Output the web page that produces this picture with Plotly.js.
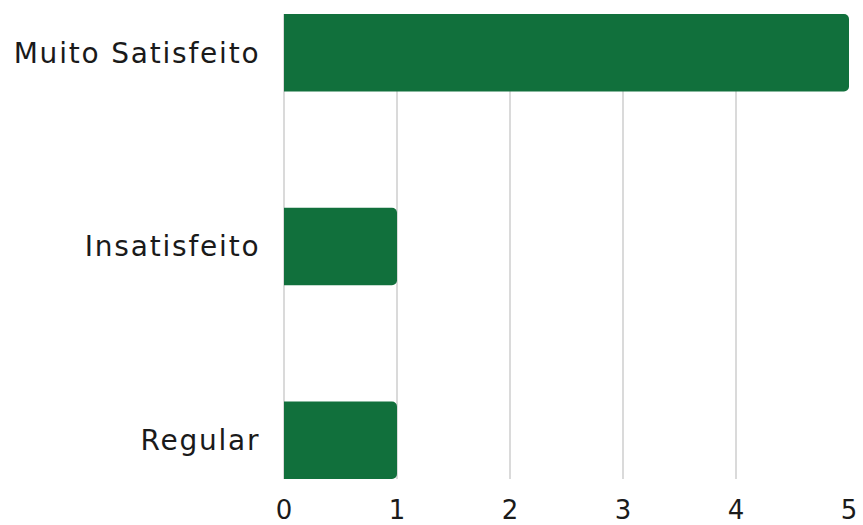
<!DOCTYPE html>
<html>
<head>
<meta charset="utf-8">
<script src="https://cdn.plot.ly/plotly-3.0.1.min.js"></script>
<style>
html,body{margin:0;padding:0;background:#fff;}
#chart{width:863px;height:525px;}
#chart .ytick text{letter-spacing:1.8px;}
</style>
</head>
<body>
<div id="chart"></div>
<script>
const categories = ["Muito Satisfeito", "Insatisfeito", "Regular"];
const values = [5, 1, 1];
const xTicks = [0, 1, 2, 3, 4, 5];

const trace = {
  type: 'bar',
  orientation: 'h',
  y: categories,
  x: values,
  width: 0.4,
  marker: {color: '#11703c', cornerradius: 5},
  hoverinfo: 'none'
};

const layout = {
  width: 863, height: 525,
  margin: {l: 284, r: 14, t: 14, b: 46},
  paper_bgcolor: '#ffffff', plot_bgcolor: '#ffffff',
  showlegend: false,
  font: {family: '"DejaVu Sans", sans-serif', color: '#1a1a1a'},
  xaxis: {
    range: [0, 5],
    tickvals: xTicks,
    ticktext: xTicks.map(String),
    showgrid: true, gridcolor: '#dadada', gridwidth: 1.5,
    zeroline: true, zerolinecolor: '#dadada', zerolinewidth: 1.5,
    showline: false,
    ticks: 'outside', ticklen: 8, tickcolor: 'rgba(0,0,0,0)',
    tickfont: {size: 26, family: '"DejaVu Sans", sans-serif', color: '#1a1a1a'},
    fixedrange: true
  },
  yaxis: {
    type: 'category',
    categoryorder: 'array', categoryarray: categories,
    autorange: false, range: [2.2, -0.2],
    showgrid: false, zeroline: false, showline: false,
    ticks: 'outside', ticklen: 17, tickcolor: 'rgba(0,0,0,0)',
    tickfont: {size: 28, family: '"DejaVu Sans", sans-serif', color: '#1a1a1a'},
    fixedrange: true
  }
};

Plotly.newPlot('chart', [trace], layout, {displayModeBar: false, staticPlot: true});
</script>
</body>
</html>
